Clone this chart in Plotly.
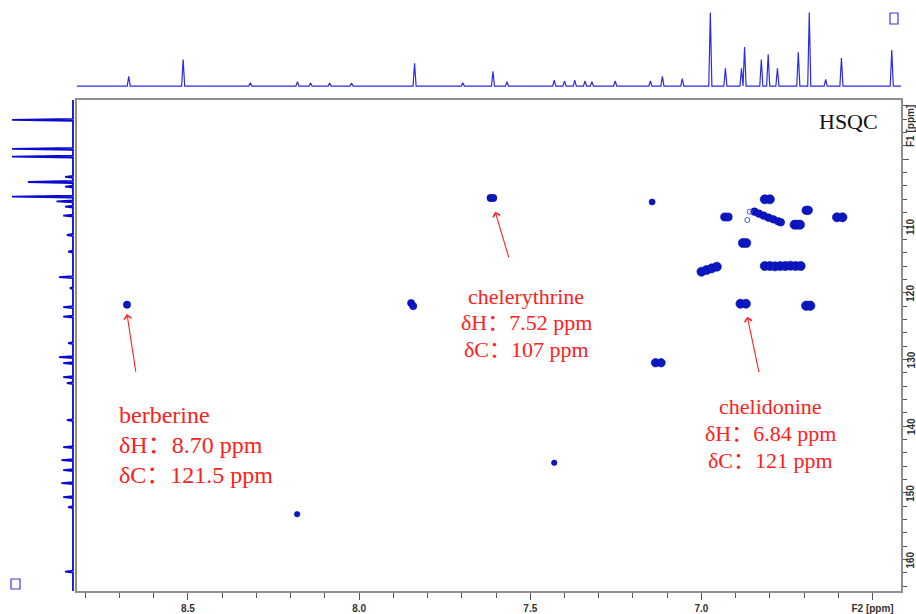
import plotly.graph_objects as go

# ---------------- data ----------------
# 2D HSQC cross peaks: F2 (1H, ppm), F1 (13C, ppm), relative intensity
peak_h = [8.678, 7.848, 7.842, 7.616, 7.608, 7.430, 8.181, 7.144,
          6.815, 6.800, 6.932, 6.922, 6.694, 6.688, 6.604, 6.588,
          6.728, 6.720, 6.712,
          6.845, 6.832, 6.818, 6.804, 6.790, 6.776, 6.768,
          6.879, 6.869,
          7.000, 6.985, 6.970, 6.955,
          6.815, 6.800, 6.785, 6.770, 6.755, 6.740, 6.725, 6.710,
          6.886, 6.870, 6.694, 6.682, 7.134, 7.118]
peak_c = [121.8, 121.55, 122.0, 105.8, 105.8, 145.5, 153.2, 106.4,
          106.0, 106.0, 108.65, 108.65, 107.65, 107.65, 108.7, 108.7,
          109.8, 109.8, 109.8,
          107.85, 108.15, 108.45, 108.75, 109.0, 109.3, 109.45,
          112.55, 112.55,
          116.85, 116.6, 116.35, 116.1,
          116.0, 116.0, 116.05, 116.0, 116.0, 115.95, 116.0, 116.0,
          121.65, 121.65, 121.95, 121.95, 130.5, 130.5]
peak_int = [0.55, 0.55, 0.55, 0.55, 0.55, 0.25, 0.25, 0.35,
            0.85, 0.85, 0.7, 0.7, 0.75, 0.75, 0.85, 0.85,
            0.85, 0.85, 0.85,
            0.6, 0.6, 0.6, 0.6, 0.6, 0.6, 0.6,
            0.85, 0.85,
            0.85, 0.85, 0.85, 0.85,
            0.85, 0.85, 0.85, 0.85, 0.85, 0.85, 0.85, 0.85,
            0.85, 0.85, 0.9, 0.9, 0.75, 0.75]

# weak (open-contour) peaks
weak_h = [6.859, 6.866]
weak_c = [107.85, 109.1]

# F2 projection (1H spectrum on top): ppm, relative height
f2_ppm = [8.673, 8.514, 8.318, 8.180, 8.142, 8.086, 8.022, 7.838, 7.697,
          7.609, 7.568, 7.430, 7.400, 7.370, 7.340, 7.320, 7.252, 7.149,
          7.114, 7.056, 6.974, 6.930, 6.883, 6.874, 6.825, 6.805, 6.778,
          6.717, 6.685, 6.637, 6.591, 6.444]
f2_int = [0.13, 0.36, 0.045, 0.06, 0.04, 0.04, 0.04, 0.31, 0.045,
          0.20, 0.06, 0.08, 0.07, 0.08, 0.07, 0.06, 0.07, 0.07,
          0.13, 0.10, 1.00, 0.24, 0.24, 0.53, 0.36, 0.43, 0.24,
          0.46, 1.00, 0.09, 0.38, 0.49]

# F1 projection (13C spectrum on the left): ppm, relative height
f1_ppm = [94.1, 98.45, 99.6, 102.65, 103.4, 104.1, 105.6, 106.3, 107.1,
          108.45, 111.35, 113.85, 117.65, 119.3, 122.15, 123.6, 127.55,
          129.65, 130.55, 132.65, 133.55, 139.1, 143.15, 145.1, 146.6,
          148.55, 150.65, 152.15, 161.8]
f1_int = [1.0, 1.0, 1.0, 0.13, 0.74, 0.13, 1.0, 0.27, 0.13,
          0.16, 0.10, 0.08, 0.23, 0.05, 0.16, 0.16, 0.08,
          0.23, 0.16, 0.16, 0.10, 0.10, 0.16, 0.19, 0.16,
          0.19, 0.16, 0.08, 0.13]

x_tick_vals = [8.5, 8.0, 7.5, 7.0, 6.5]
x_tick_text = ["8.5", "8.0", "7.5", "7.0", "F2 [ppm]"]
y_tick_vals = [110, 120, 130, 140, 150, 160]
y_tick_text = ["110", "120", "130", "140", "150", "160"]

compounds = ["berberine", "chelerythrine", "chelidonine"]
delta_h = ["δH：8.70 ppm", "δH：7.52 ppm", "δH：6.84 ppm"]
delta_c = ["δC：121.5 ppm", "δC：107 ppm", "δC：121 ppm"]
# arrow tips (F2, F1 ppm) pointing at the assigned cross peaks
arrow_h = [8.678, 7.6025, 6.866]
arrow_c = [123.2, 107.86, 123.6]

# ---------------- layout helpers ----------------
W, H = 916, 614
MR = 15
PW = W - MR


def px(x):
    return x / PW


def py(y):
    return (H - y) / H


BLUE = "#0a18c0"
LINE_BLUE = "#2b2be6"
RED = "#ff2020"

fig = go.Figure()

# cross peaks
fig.add_trace(go.Scatter(
    x=peak_h, y=peak_c, mode="markers",
    marker=dict(size=[4 + 6 * v for v in peak_int], color=BLUE, opacity=1,
                line=dict(color="#0808a8", width=0.6)),
    xaxis="x", yaxis="y", hoverinfo="skip", showlegend=False))
fig.add_trace(go.Scatter(
    x=weak_h, y=weak_c, mode="markers",
    marker=dict(size=5, symbol="circle-open", color="#4a55d8", opacity=1,
                line=dict(width=1)),
    xaxis="x", yaxis="y", hoverinfo="skip", showlegend=False))

# top projection (F2)
w2 = 0.0045
pairs = sorted(zip(f2_ppm, f2_int), reverse=True)
sx, sy = [8.825], [0.0]
for p, h in pairs:
    sx += [p + w2, p, p - w2]
    sy += [0.0, h, 0.0]
sx.append(6.417)
sy.append(0.0)
fig.add_trace(go.Scatter(x=sx, y=sy, mode="lines",
                         line=dict(color=LINE_BLUE, width=1.2),
                         xaxis="x", yaxis="y2", hoverinfo="skip",
                         showlegend=False))

# left projection (F1)
w1 = 0.15
pairs1 = sorted(zip(f1_ppm, f1_int))
lx, ly = [0.0], [91.0]
for p, h in pairs1:
    ly += [p - w1, p, p + w1]
    lx += [0.0, h, 0.0]
ly.append(164.8)
lx.append(0.0)
fig.add_trace(go.Scatter(x=lx, y=ly, mode="lines",
                         line=dict(color="#0a0ad0", width=1.8),
                         xaxis="x3", yaxis="y", hoverinfo="skip",
                         showlegend=False))

axfont = dict(family="Liberation Sans", size=10, color="#333333", weight="bold")

fig.update_layout(
    width=W, height=H,
    margin=dict(l=0, r=MR, t=0, b=0),
    paper_bgcolor="white", plot_bgcolor="white",
    showlegend=False,
    xaxis=dict(domain=[px(76.7), 1.0], range=[8.825, 6.417],
               anchor="y", showgrid=False, zeroline=False,
               showline=True, mirror=True, linecolor="#8f8f8f", linewidth=1.5,
               ticks="outside", ticklen=7, tickwidth=1, tickcolor="#555555",
               tickvals=x_tick_vals, ticktext=x_tick_text,
               tickfont=axfont,
               minor=dict(dtick=0.1, ticks="outside", ticklen=5,
                          tickcolor="#555555", showgrid=False),
               automargin=False),
    yaxis=dict(domain=[py(591), py(100)], range=[164.72, 91.11],
               anchor="x", side="right", showgrid=False, zeroline=False,
               showline=True, mirror=True, linecolor="#8f8f8f", linewidth=1.5,
               ticks="outside", ticklen=6, tickwidth=1, tickcolor="#555555",
               tickvals=[100] + y_tick_vals, showticklabels=False,
               minor=dict(dtick=2, ticks="outside", ticklen=4,
                          tickcolor="#555555", showgrid=False),
               automargin=False),
    yaxis2=dict(domain=[py(87.5), py(11.0)], range=[-0.02, 1.02],
                anchor="x", visible=False, showgrid=False),
    xaxis3=dict(domain=[px(10.8), px(74.2)], range=[1.02, -0.02],
                anchor="y", visible=False, showgrid=False),
)

annotations = []
serif = "Liberation Serif, Noto Sans CJK SC"
# berberine block (left aligned)
for txt, yy in zip([compounds[0], delta_h[0], delta_c[0]], [415, 445, 475]):
    annotations.append(dict(text=txt, xref="paper", yref="paper", x=px(117), y=py(yy),
                            xanchor="left", yanchor="middle", showarrow=False,
                            font=dict(family=serif, size=24, color=RED)))
# chelerythrine block
for txt, yy in zip([compounds[1], delta_h[1], delta_c[1]], [296, 322, 349]):
    annotations.append(dict(text=txt, xref="paper", yref="paper", x=px(526), y=py(yy),
                            xanchor="center", yanchor="middle", showarrow=False,
                            font=dict(family=serif, size=22, color=RED)))
# chelidonine block
for txt, yy in zip([compounds[2], delta_h[2], delta_c[2]], [406, 433, 460]):
    annotations.append(dict(text=txt, xref="paper", yref="paper", x=px(770), y=py(yy),
                            xanchor="center", yanchor="middle", showarrow=False,
                            font=dict(family=serif, size=22, color=RED)))
# arrows
for hx, cy, (axo, ayo) in zip(arrow_h, arrow_c, [(9, 59), (14, 47), (12, 57)]):
    annotations.append(dict(x=hx, y=cy, xref="x", yref="y", text="",
                            showarrow=True, ax=axo, ay=ayo, arrowhead=4,
                            arrowsize=1.3, arrowwidth=1.1, arrowcolor=RED,
                            standoff=0))
# HSQC label
annotations.append(dict(text="HSQC", xref="paper", yref="paper", x=px(848), y=py(122),
                        xanchor="center", yanchor="middle", showarrow=False,
                        font=dict(family="Liberation Serif", size=22, color="#111111")))
# F1 axis tick labels (rotated) and unit label
for v, t in zip(y_tick_vals, y_tick_text):
    annotations.append(dict(text=t, xref="paper", yref="y", x=px(911), y=v,
                            xanchor="center", yanchor="middle", showarrow=False,
                            textangle=-90, font=axfont))
annotations.append(dict(text="F1 [ppm]", xref="paper", yref="paper",
                        x=px(911), y=py(126), xanchor="center", yanchor="middle",
                        showarrow=False, textangle=-90, font=axfont))
fig.update_layout(annotations=annotations)

# small open squares (spectrum window markers)
fig.add_shape(type="rect", xref="paper", yref="paper",
              x0=px(890), x1=px(898), y0=py(24), y1=py(13),
              line=dict(color="#3a3ae0", width=1.2), fillcolor="rgba(0,0,0,0)")
fig.add_shape(type="rect", xref="paper", yref="paper",
              x0=px(11), x1=px(20), y0=py(589), y1=py(579),
              line=dict(color="#3a3ae0", width=1.2), fillcolor="rgba(0,0,0,0)")

fig.write_html("out.html")
